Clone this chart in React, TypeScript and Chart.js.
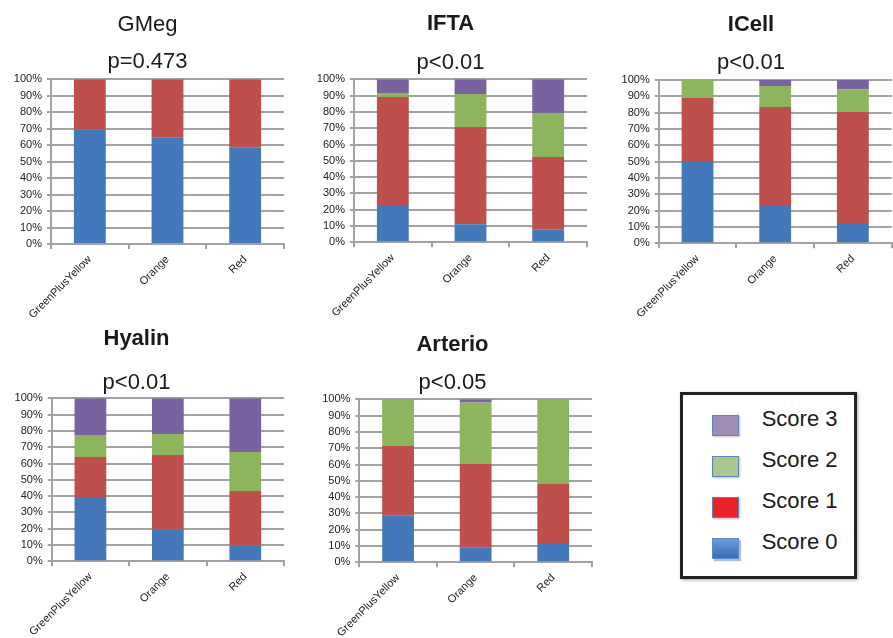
import React, { useEffect, useRef } from 'react';
import { Chart, registerables } from 'chart.js';

Chart.register(...registerables);

// ---------- data ----------
const categories = ['GreenPlusYellow', 'Orange', 'Red'];
const scoreLabels = ['Score 0', 'Score 1', 'Score 2', 'Score 3'];

const gmegScore0 = [69.5, 64.8, 58.5];
const gmegScore1 = [30.5, 35.2, 41.5];
const gmegScore2 = [0, 0, 0];
const gmegScore3 = [0, 0, 0];

const iftaScore0 = [22.3, 11.0, 8.0];
const iftaScore1 = [66.9, 59.8, 44.4];
const iftaScore2 = [2.4, 20.2, 26.9];
const iftaScore3 = [8.4, 9.0, 20.7];

const icellScore0 = [49.8, 23.5, 12.4];
const icellScore1 = [39.2, 60.0, 68.0];
const icellScore2 = [11.0, 12.8, 13.9];
const icellScore3 = [0, 3.7, 5.7];

const hyalinScore0 = [38.9, 19.6, 9.8];
const hyalinScore1 = [25.1, 45.6, 33.3];
const hyalinScore2 = [13.5, 12.9, 24.0];
const hyalinScore3 = [22.5, 21.9, 32.9];

const arterioScore0 = [28.6, 9.0, 11.9];
const arterioScore1 = [42.8, 51.3, 36.4];
const arterioScore2 = [28.6, 37.7, 51.7];
const arterioScore3 = [0, 2.0, 0];

// ---------- styles ----------
const FONT = '"Liberation Sans", Arial, Helvetica, sans-serif';
const scoreColors = ['#4379BA', '#BE4F4D', '#8DB55E', '#7862A0'];
const gridColor = '#a2a2a2';
const textColor = '#222222';

type PanelSpec = {
  title: string;
  bold: boolean;
  subtitle: string;
  series: number[][];
  // layout targets (page pixels)
  left: number;
  right: number;
  areaTop: number;
  areaBottom: number;
  titleX: number;
  subX: number;
  titleY: number;
  subY: number;
  canvasTop: number;
  canvasHeight: number;
};

const panels: PanelSpec[] = [
  {
    title: 'GMeg', bold: false, subtitle: 'p=0.473',
    series: [gmegScore0, gmegScore1, gmegScore2, gmegScore3],
    left: 51, right: 284, areaTop: 79.3, areaBottom: 244,
    titleX: 153, subX: 143, titleY: 25, subY: 62, canvasTop: 0, canvasHeight: 320,
  },
  {
    title: 'IFTA', bold: true, subtitle: 'p<0.01',
    series: [iftaScore0, iftaScore1, iftaScore2, iftaScore3],
    left: 354, right: 587, areaTop: 79.3, areaBottom: 242.3,
    titleX: 457, subX: 455, titleY: 24, subY: 62.5, canvasTop: 0, canvasHeight: 320,
  },
  {
    title: 'ICell', bold: true, subtitle: 'p<0.01',
    series: [icellScore0, icellScore1, icellScore2, icellScore3],
    left: 658.7, right: 891.7, areaTop: 80, areaBottom: 243.3,
    titleX: 752, subX: 750, titleY: 25, subY: 62.5, canvasTop: 0, canvasHeight: 320,
  },
  {
    title: 'Hyalin', bold: true, subtitle: 'p<0.01',
    series: [hyalinScore0, hyalinScore1, hyalinScore2, hyalinScore3],
    left: 51.7, right: 284, areaTop: 398.3, areaBottom: 561.3,
    titleX: 130, subX: 143, titleY: 339, subY: 382.5, canvasTop: 310, canvasHeight: 327,
  },
  {
    title: 'Arterio', bold: true, subtitle: 'p<0.05',
    series: [arterioScore0, arterioScore1, arterioScore2, arterioScore3],
    left: 359.3, right: 592, areaTop: 399.3, areaBottom: 562.3,
    titleX: 455, subX: 450, titleY: 345, subY: 382.5, canvasTop: 310, canvasHeight: 327,
  },
];

const TITLE_SIZE = 22;
const LINE_H = TITLE_SIZE * 1.2;

function computeLayout(p: PanelSpec) {
  const cx = (p.titleX + p.subX) / 2;
  const boxLeft = Math.min(2 * cx - p.right, p.left - 40);
  const canvasLeft = Math.floor(boxLeft);
  const width = Math.min(Math.ceil(p.right + 1 - canvasLeft), 893 - canvasLeft);
  const padLeft = boxLeft - canvasLeft;
  const padRight = canvasLeft + width - p.right;
  const yAxisWidth = p.left - boxLeft;
  const titlePadTop = p.titleY - p.canvasTop - LINE_H / 2;
  const subPadTop = p.subY - p.titleY - LINE_H;
  const subPadBottom = p.areaTop - p.subY - LINE_H / 2;
  const xAxisHeight = p.canvasHeight - (p.areaBottom - p.canvasTop);
  return { canvasLeft, width, padLeft, padRight, yAxisWidth, titlePadTop, subPadTop, subPadBottom, xAxisHeight };
}

function Panel({ spec }: { spec: PanelSpec }) {
  const ref = useRef<HTMLCanvasElement>(null);
  const lay = computeLayout(spec);

  useEffect(() => {
    if (!ref.current) return;
    const chart = new Chart(ref.current, {
      type: 'bar',
      data: {
        labels: categories,
        datasets: spec.series.map((vals, i) => ({
          label: scoreLabels[i],
          data: vals,
          backgroundColor: scoreColors[i],
          borderWidth: 0,
          barPercentage: 0.41,
          categoryPercentage: 1,
        })),
      },
      options: {
        responsive: false,
        animation: false,
        devicePixelRatio: 1,
        layout: { padding: { left: lay.padLeft, right: lay.padRight, top: 0, bottom: 0 } },
        plugins: {
          legend: { display: false },
          tooltip: { enabled: false },
          title: {
            display: true,
            text: spec.title,
            color: '#1a1a1a',
            font: { family: FONT, size: TITLE_SIZE, weight: spec.bold ? 'bold' : 'normal', lineHeight: 1.2 },
            padding: { top: lay.titlePadTop, bottom: 0 },
          },
          subtitle: {
            display: true,
            text: spec.subtitle,
            color: '#1a1a1a',
            font: { family: FONT, size: TITLE_SIZE, weight: 'normal', lineHeight: 1.2 },
            padding: { top: lay.subPadTop, bottom: lay.subPadBottom },
          },
        },
        scales: {
          x: {
            stacked: true,
            grid: {
              offset: true,
              drawOnChartArea: false,
              drawTicks: true,
              tickLength: 5,
              color: gridColor,
              lineWidth: 2,
            },
            border: { display: true, color: gridColor, width: 2 },
            ticks: {
              color: textColor,
              font: { family: FONT, size: 11 },
              minRotation: 45,
              maxRotation: 45,
              autoSkip: false,
              padding: 4,
            },
            afterFit: (s: any) => {
              s.height = lay.xAxisHeight;
            },
          },
          y: {
            stacked: true,
            min: 0,
            max: 100,
            grid: { color: gridColor, lineWidth: 2, drawTicks: true, tickLength: 4 },
            border: { display: true, color: gridColor, width: 2 },
            ticks: {
              stepSize: 10,
              color: textColor,
              font: { family: FONT, size: 11 },
              padding: 5,
              callback: (v: any) => v + '%',
            },
            afterFit: (s: any) => {
              s.width = lay.yAxisWidth;
            },
          },
        },
      } as any,
    });
    return () => chart.destroy();
  }, []);

  return (
    <canvas
      ref={ref}
      width={lay.width}
      height={spec.canvasHeight}
      style={{
        position: 'absolute',
        left: lay.canvasLeft,
        top: spec.canvasTop,
        width: lay.width,
        height: spec.canvasHeight,
        display: 'block',
      }}
    />
  );
}

const swatchStyles: React.CSSProperties[] = [
  { background: 'linear-gradient(#6C9CDC, #3A6CB3)', border: '1.5px solid #5A8AC8', boxShadow: '2px 2px 1px rgba(120,150,190,0.6)' },
  { background: '#EC2229', border: '1.5px solid #5A86C0', boxShadow: '1px 1px 2px rgba(0,0,0,0.25)' },
  { background: '#ABC78F', border: '1.5px solid #5A86C0', boxShadow: '1px 1px 2px rgba(0,0,0,0.25)' },
  { background: '#A08DB5', border: '1.5px solid #5A86C0', boxShadow: '1px 1px 2px rgba(0,0,0,0.25)' },
];

// legend rows: top to bottom Score 3..0
const legendRowCenters = [419, 460, 501, 541.7];
const legendSwatchTops = [415, 456, 496.7, 537.7];

function LegendBox() {
  const boxLeft = 680;
  const boxTop = 391.7;
  const border = 3;
  const order = [3, 2, 1, 0];
  return (
    <div
      style={{
        position: 'absolute',
        left: boxLeft,
        top: boxTop,
        width: 176.7 - 2 * border,
        height: 187.6 - 2 * border,
        border: `${border}px solid #222`,
        boxShadow: '1px 1px 3px rgba(0,0,0,0.35)',
        background: '#fff',
        fontFamily: FONT,
      }}
    >
      {order.map((si, row) => (
        <React.Fragment key={si}>
          <div
            style={{
              position: 'absolute',
              left: 711.7 - boxLeft - border,
              top: legendSwatchTops[row] - boxTop - border,
              width: 25,
              height: 19,
              ...swatchStyles[si],
            }}
          />
          <div
            style={{
              position: 'absolute',
              left: 761.7 - boxLeft - border,
              top: legendRowCenters[row] - 13 - boxTop - border,
              height: 26,
              lineHeight: '26px',
              fontSize: 22,
              color: '#1a1a1a',
              whiteSpace: 'nowrap',
            }}
          >
            {scoreLabels[si]}
          </div>
        </React.Fragment>
      ))}
    </div>
  );
}

export default function App() {
  return (
    <div>
      {panels.map((p) => (
        <Panel key={p.title} spec={p} />
      ))}
      <LegendBox />
    </div>
  );
}
